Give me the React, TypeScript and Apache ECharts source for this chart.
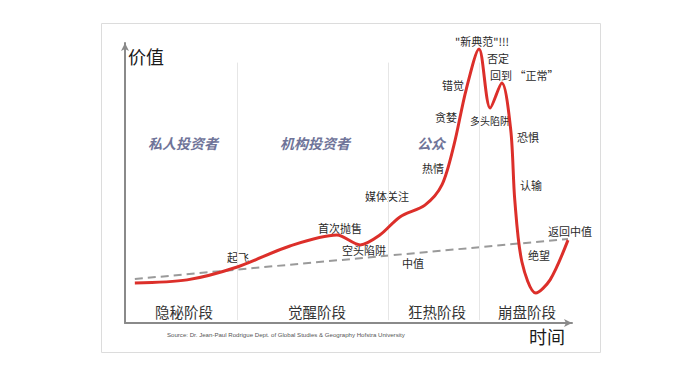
import React, { useEffect, useRef } from "react";
import * as echarts from "echarts";

// Hype-cycle curve: time (0-100) vs value (0-100)
const curveTime = [2.2, 13.9, 25.1, 36.9, 47.4, 52.6, 57.0, 61.5, 67.1, 70.9, 73.6, 76.3, 79.2, 81.7, 84.3, 86.3, 87.2, 88.8, 91.9, 95.1, 99.1];
const curveValue = [14.3, 15.4, 20.0, 27.5, 31.4, 27.9, 31.4, 37.9, 42.1, 49.3, 63.6, 83.2, 97.9, 76.8, 85.7, 68.9, 43.9, 21.8, 10.7, 15.4, 29.6];
const medianTime = [2.2, 99.1];
const medianValue = [15.7, 30.0];
const phaseBoundaries = [25.1, 58.8, 79.2];
const phaseNames = ["隐秘阶段", "觉醒阶段", "狂热阶段", "崩盘阶段"];
const groupNames = ["私人投资者", "机构投资者", "公众"];
const annotationTexts = ["起飞", "首次抛售", "空头陷阱", "中值", "媒体关注", "热情", "贪婪", "错觉", "\"新典范\"!!!", "否定", "回到 “正常”", "多头陷阱", "恐惧", "认输", "返回中值", "绝望"];
const axisNames = ["价值", "时间"];
const sourceText = "Source: Dr. Jean-Paul Rodrigue Dept. of Global Studies & Geography Hofstra University";

const FONT = "'Noto Sans CJK SC', 'Noto Sans', sans-serif";

export default function App() {
  const ref = useRef<HTMLDivElement>(null);
  useEffect(() => {
    if (!ref.current) return;
    const chart = echarts.init(ref.current, null, { renderer: "svg" });

    const annPos: [number, number, number?][] = [
      [227, 257], [318, 228], [342, 250], [402, 263], [365, 196], [422, 168],
      [435, 117], [442, 85], [455, 41], [487, 58], [490, 75], [470, 120, 10],
      [517, 137], [520, 185], [548, 231], [528, 255],
    ];
    const phasePos = [155, 288, 408, 498];
    const groupPos = [148, 280, 417];

    const graphic: any[] = [
      {
        type: "rect", z: -10, silent: true,
        shape: { x: 101.5, y: 23.5, width: 499, height: 329 },
        style: { fill: "none", stroke: "#dcdcdc", lineWidth: 1 },
      },
    ];
    annotationTexts.forEach((t, i) => {
      const p = annPos[i];
      graphic.push({
        type: "text", x: p[0], y: p[1],
        style: { text: t, fill: "#2a2a2a", fontSize: p[2] || 11, fontFamily: FONT, align: "left", verticalAlign: "middle" },
      });
    });
    phaseNames.forEach((t, i) => {
      graphic.push({
        type: "text", x: phasePos[i], y: 311,
        style: { text: t, fill: "#333", fontSize: 14.5, fontFamily: FONT, align: "left", verticalAlign: "middle" },
      });
    });
    groupNames.forEach((t, i) => {
      graphic.push({
        type: "text", x: groupPos[i], y: 143,
        style: { text: t, fill: "#6f7499", fontSize: 14, fontWeight: "bold", fontStyle: "italic", fontFamily: FONT, align: "left", verticalAlign: "middle" },
      });
    });
    graphic.push({
      type: "text", x: 128, y: 56,
      style: { text: axisNames[0], fill: "#1a1a1a", fontSize: 18, fontFamily: FONT, align: "left", verticalAlign: "middle" },
    });
    graphic.push({
      type: "text", x: 529, y: 336,
      style: { text: axisNames[1], fill: "#1a1a1a", fontSize: 18, fontFamily: FONT, align: "left", verticalAlign: "middle" },
    });
    graphic.push({
      type: "text", x: 167, y: 334,
      style: { text: sourceText, fill: "#555", fontSize: 6.1, fontFamily: "'Liberation Sans', Arial, sans-serif", align: "left", verticalAlign: "middle" },
    });

    const axisLine = {
      show: true,
      symbol: ["none", "arrow"],
      symbolSize: [6, 8],
      lineStyle: { color: "#8a8a8a", width: 2 },
    };

    chart.setOption({
      animation: false,
      textStyle: { fontFamily: FONT },
      grid: { left: 125, top: 43, width: 447, height: 280 },
      xAxis: {
        type: "value", min: 0, max: 100,
        axisLine, axisTick: { show: false }, axisLabel: { show: false }, splitLine: { show: false },
      },
      yAxis: {
        type: "value", min: 0, max: 100,
        axisLine, axisTick: { show: false }, axisLabel: { show: false }, splitLine: { show: false },
      },
      series: [
        {
          type: "line",
          name: "dividers",
          data: [],
          markLine: {
            silent: true,
            symbol: "none",
            label: { show: false },
            lineStyle: { color: "#e6e6e6", width: 1, type: "solid" },
            data: phaseBoundaries.map((b) => [{ coord: [b, 1] }, { coord: [b, 93] }]),
          },
        },
        {
          type: "line",
          name: "median",
          data: medianTime.map((t, i) => [t, medianValue[i]]),
          showSymbol: false,
          lineStyle: { color: "#9a9a9a", width: 2, type: [8, 5] },
        },
        {
          type: "line",
          name: "value",
          data: curveTime.map((t, i) => [t, curveValue[i]]),
          smooth: 0.3,
          showSymbol: false,
          lineStyle: { color: "#dc2f2a", width: 3 },
          z: 5,
        },
      ],
      graphic,
    });
    return () => chart.dispose();
  }, []);
  return <div ref={ref} style={{ position: "fixed", left: 0, top: 0, width: 698, height: 380, background: "#fff" }} />;
}
